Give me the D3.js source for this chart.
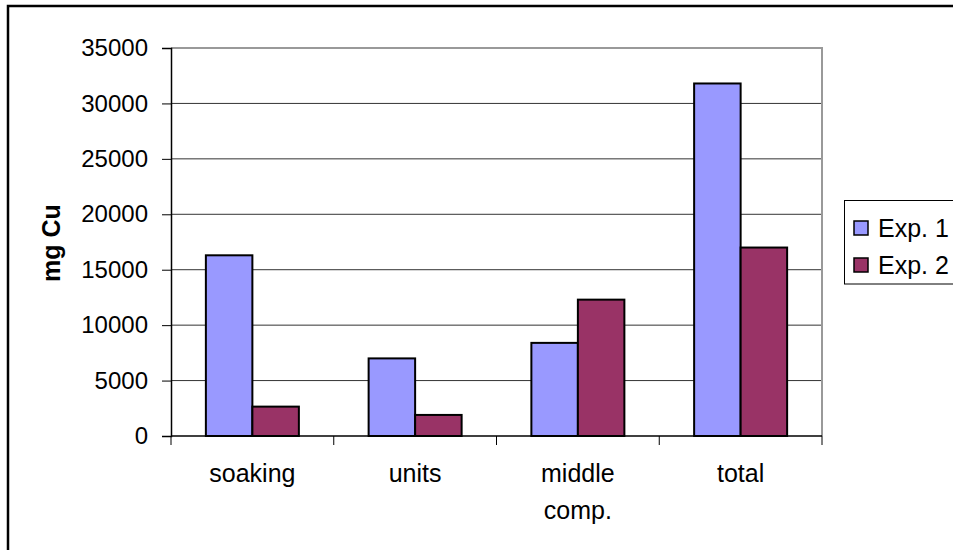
<!DOCTYPE html>
<html>
<head>
<meta charset="utf-8">
<script src="https://cdn.jsdelivr.net/npm/d3@7"></script>
<style>
  html, body { margin: 0; padding: 0; background: #fff; }
  svg { display: block; font-family: "Liberation Sans", Arial, sans-serif; }
</style>
</head>
<body>
<svg id="chart" width="953" height="550"></svg>
<script>
// Copper amounts (mg Cu) per stage for two experiments
const categories = [["soaking"], ["units"], ["middle", "comp."], ["total"]];
const seriesNames = ["Exp. 1", "Exp. 2"];
const exp1 = [16300, 7000, 8400, 31800];
const exp2 = [2650, 1900, 12300, 17000];
const yTicks = [0, 5000, 10000, 15000, 20000, 25000, 30000, 35000];
const colors = ["#9999FF", "#993366"];

const svg = d3.select("#chart");
const keys = categories.map(c => c.join(" "));
const values = [exp1, exp2];

const plot = { left: 171, right: 822, top: 48, bottom: 436 };

const x = d3.scaleBand().domain(keys).range([plot.left, plot.right]).padding(0);
const xs = d3.scaleBand().domain(seriesNames).range([0, x.bandwidth()])
  .paddingInner(0).paddingOuter(0.75);
const y = d3.scaleLinear().domain([0, 35000]).range([plot.bottom, plot.top]);

// Outer chart frame
svg.append("rect")
  .attr("x", 8).attr("y", 6).attr("width", 1000).attr("height", 600)
  .attr("fill", "none").attr("stroke", "#000").attr("stroke-width", 2.5);

// Horizontal gridlines
svg.append("g").selectAll("line").data(yTicks.filter(t => t > 0)).join("line")
  .attr("x1", plot.left).attr("x2", plot.right)
  .attr("y1", d => y(d)).attr("y2", d => y(d))
  .attr("stroke", "#333").attr("stroke-width", 1);

// Plot area border (right and top)
svg.append("path")
  .attr("d", `M${plot.left},${plot.top}H${plot.right}V${plot.bottom}`)
  .attr("fill", "none").attr("stroke", "#999").attr("stroke-width", 2);

// Bars
const groups = svg.append("g").selectAll("g").data(keys).join("g")
  .attr("transform", d => `translate(${x(d)},0)`);
groups.selectAll("rect")
  .data((d, i) => seriesNames.map((s, j) => ({ s, j, v: values[j][i] })))
  .join("rect")
  .attr("x", d => xs(d.s))
  .attr("width", xs.bandwidth())
  .attr("y", d => y(d.v))
  .attr("height", d => y(0) - y(d.v))
  .attr("fill", d => colors[d.j])
  .attr("stroke", "#000").attr("stroke-width", 2);

// Y axis
const yAxis = d3.axisLeft(y).tickValues(yTicks).tickSize(9).tickPadding(14)
  .tickFormat(d3.format("d"));
const gy = svg.append("g").attr("transform", `translate(${plot.left},0)`).call(yAxis);
gy.select(".domain").attr("stroke", "#000").attr("stroke-width", 1.5);
gy.selectAll(".tick line").attr("stroke", "#000");
gy.selectAll(".tick text").attr("font-size", 24).attr("fill", "#000")
  .attr("font-family", "Liberation Sans, Arial, sans-serif");

// X axis line and boundary ticks
const gx = svg.append("g");
gx.append("line")
  .attr("x1", plot.left).attr("x2", plot.right)
  .attr("y1", y(0)).attr("y2", y(0))
  .attr("stroke", "#000").attr("stroke-width", 1.5);
const bounds = keys.map(k => x(k)).concat([plot.right]);
gx.selectAll("line.tk").data(bounds).join("line").attr("class", "tk")
  .attr("x1", d => d).attr("x2", d => d)
  .attr("y1", y(0)).attr("y2", y(0) + 9)
  .attr("stroke", "#000").attr("stroke-width", 1);

// Category labels
const labels = gx.selectAll("text").data(categories).join("text")
  .attr("text-anchor", "middle").attr("font-size", 25).attr("fill", "#000")
  .attr("x", (d, i) => x(keys[i]) + x.bandwidth() / 2)
  .attr("y", 482);
labels.selectAll("tspan").data(d => d).join("tspan")
  .attr("x", function () { return d3.select(this.parentNode).attr("x"); })
  .attr("dy", (d, i) => i === 0 ? 0 : 37)
  .text(d => d);

// Y axis title
svg.append("text")
  .attr("transform", "translate(60,243) rotate(-90)")
  .attr("text-anchor", "middle").attr("font-size", 25).attr("font-weight", "bold")
  .text("mg Cu");

// Legend
const lg = svg.append("g");
lg.append("rect")
  .attr("x", 844.5).attr("y", 200.5).attr("width", 200).attr("height", 83.5)
  .attr("fill", "#fff").attr("stroke", "#000").attr("stroke-width", 1);
const items = lg.selectAll("g").data(seriesNames).join("g")
  .attr("transform", (d, i) => `translate(854,${228 + i * 37})`);
items.append("rect")
  .attr("x", 0).attr("y", -7).attr("width", 14).attr("height", 14)
  .attr("fill", (d, i) => colors[i]).attr("stroke", "#000").attr("stroke-width", 1.5);
items.append("text")
  .attr("x", 24).attr("y", 8.5).attr("font-size", 25).text(d => d);
</script>
</body>
</html>
